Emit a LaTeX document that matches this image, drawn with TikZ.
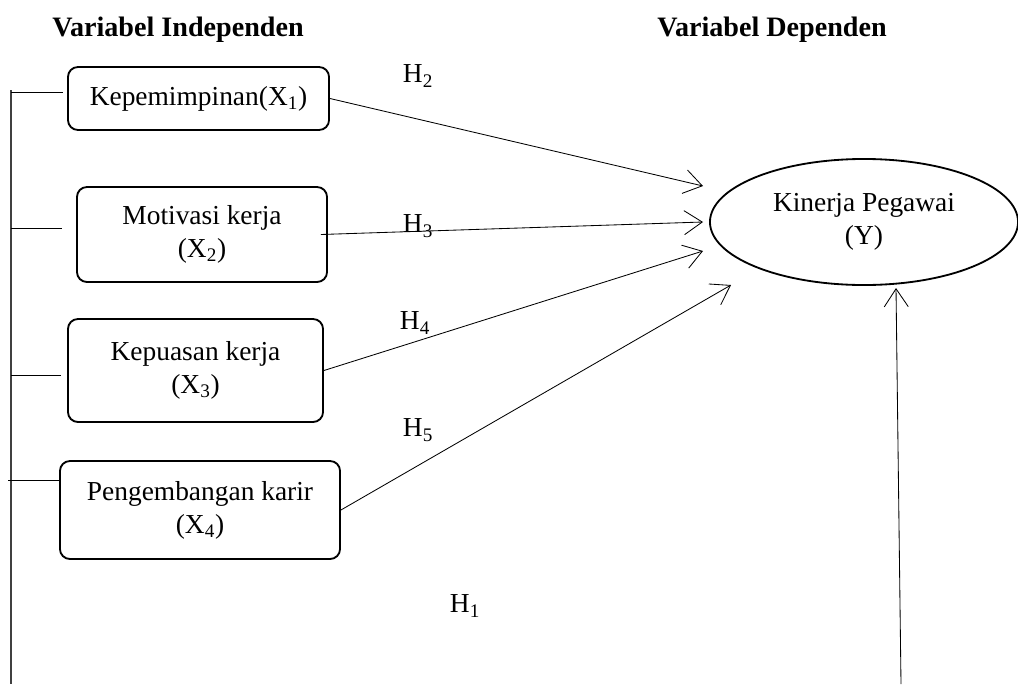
\documentclass[tikz,border=0pt]{standalone}
\usepackage{fontspec}
\setmainfont{Liberation Serif}
\usetikzlibrary{positioning, arrows.meta, calc, shapes.geometric}

\begin{document}
\begin{tikzpicture}[
  x=0.025cm, y=-0.025cm,
  font=\fontsize{19.5}{23.4}\selectfont,
  box/.style={draw, rounded corners=0.25cm, line width=1.3pt, align=center},
  arr/.style={-{Straight Barb[length=0.45cm, width=0.6cm]}, line width=0.6pt},
  hlab/.style={inner sep=0pt},
  title/.style={font=\fontsize{20}{24}\selectfont\bfseries}
]
  \useasboundingbox (0,0) rectangle (1018,684);

  % Titles
  \node[title] (tind) at (178,30) {Variabel Independen};
  \node[title] (tdep) at (772,30) {Variabel Dependen};

  % Independent variables
  \node[box, minimum width=6.525cm, minimum height=1.575cm] (x1) at (198.5,98.5)
    {Kepemimpinan(X\textsubscript{1})};
  \node[box, minimum width=6.25cm, minimum height=2.375cm] (x2) at (202,234.5)
    {Motivasi kerja\\(X\textsubscript{2})};
  \node[box, minimum width=6.375cm, minimum height=2.575cm] (x3) at (195.5,370.5)
    {Kepuasan kerja\\(X\textsubscript{3})};
  \node[box, minimum width=7cm, minimum height=2.45cm] (x4) at (200,510)
    {Pengembangan karir\\(X\textsubscript{4})};

  % Dependent variable
  \node[draw, ellipse, line width=1.3pt, minimum width=7.7cm, minimum height=3.15cm,
        align=center] (y) at (864,222) {Kinerja Pegawai\\(Y)};

  % Arrow tips near Y
  \coordinate (t2) at (703,186);
  \coordinate (t3) at (703,222);
  \coordinate (t4) at (703,251);
  \coordinate (t5) at (731,285);
  \coordinate (t1) at (896,288);
  \coordinate (b1) at (901,684);

  % Arrows
  \draw[arr] (x1.east) -- (t2);
  \draw[arr] ([xshift=-5]x2.east) -- (t3);
  \draw[arr] (x3.east) -- (t4);
  \draw[arr] (x4.east) -- (t5);
  \draw[arr] (b1) -- (t1);

  % Left spine
  \coordinate (sp) at (11,90);
  \coordinate (sb) at (11,684);
  \coordinate (s1) at (11,92);
  \coordinate (s2) at (11,228);
  \coordinate (s3) at (11,375);
  \coordinate (s4) at (8,480);
  \draw[line width=0.9pt, black!75] (sp) -- (sb);
  \draw[line width=0.6pt] (s1) -- ([xshift=-3]s1 -| x1.west);
  \draw[line width=0.6pt] (s2) -- ([xshift=-10]s2 -| x2.west);
  \draw[line width=0.6pt] (s3) -- ([xshift=-4]s3 -| x3.west);
  \draw[line width=0.6pt] (s4) -- (s4 -| x4.west);

  % Hypothesis labels
  \node[hlab] (h2) at (418,76) {H\textsubscript{2}};
  \node[hlab] (h3) at (418,226) {H\textsubscript{3}};
  \node[hlab] (h4) at (415,323) {H\textsubscript{4}};
  \node[hlab] (h5) at (418,430) {H\textsubscript{5}};
  \node[hlab] (h1) at (465,606) {H\textsubscript{1}};
\end{tikzpicture}
\end{document}
